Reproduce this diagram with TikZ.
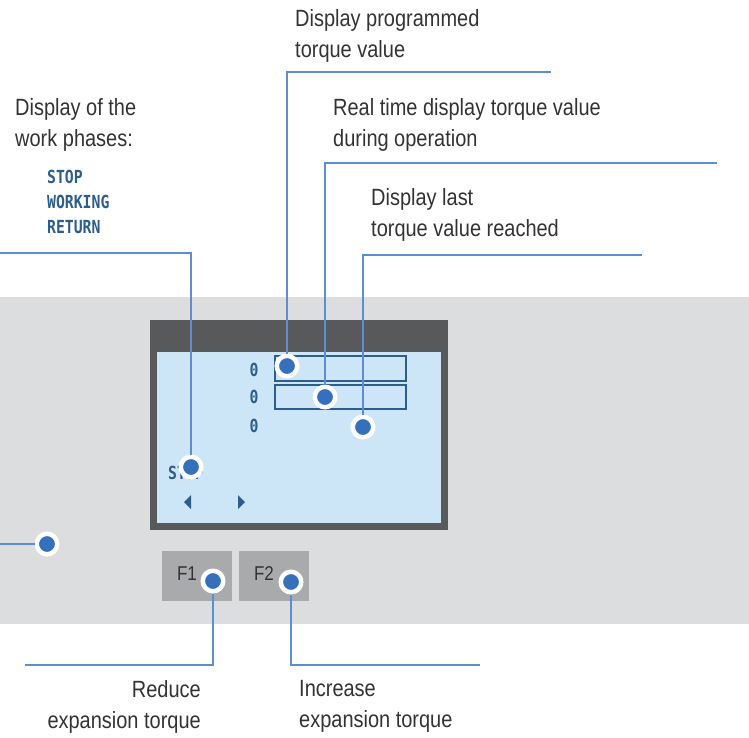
\documentclass[tikz,border=0pt]{standalone}
\usepackage{fontspec}
\setmainfont{Liberation Sans}[FakeStretch=0.85]
\newfontfamily\lcdfont{DejaVu Sans Mono}[FakeStretch=0.82]
\usepackage{tikz}

\definecolor{panelgray}{HTML}{DCDDDE}
\definecolor{framegray}{HTML}{58595B}
\definecolor{screenblue}{HTML}{CCE6F8}
\definecolor{lcdblue}{HTML}{2B5E8C}
\definecolor{leadblue}{HTML}{5B8ED6}
\definecolor{dotblue}{HTML}{3571BA}
\definecolor{keygray}{HTML}{A9AAAC}

\begin{document}
\begin{tikzpicture}[x=1pt,y=-1pt,
        dot/.style={circle,fill=dotblue,draw=white,line width=4.5pt,inner sep=0pt,minimum size=20.5pt},
        lead/.style={draw=leadblue,line width=1.5pt},
        label/.style={inner sep=0pt,text=black!80,font=\fontsize{23.5}{31}\selectfont},
        lcd/.style={inner sep=0pt,text=lcdblue,font=\lcdfont\bfseries\fontsize{18}{25}\selectfont},
        key/.style={fill=keygray,minimum width=70pt,minimum height=50pt,inner sep=0pt}]
        \useasboundingbox (0,0) rectangle (749,738);

        % panel and display
        \fill[panelgray] (0,297) rectangle (749,624);
        \fill[framegray] (150,320) rectangle (448,530);
        \fill[screenblue] (157,352) rectangle (441,523);
        \draw[lcdblue,line width=1.5pt] (275,356) rectangle (406,381);
        \draw[lcdblue,line width=1.5pt] (275,385) rectangle (406,409);

        \node[lcd] (Z1) at (254,370) {0};
        \node[lcd] (Z2) at (254,397) {0};
        \node[lcd] (Z3) at (254,426) {0};
        \node[lcd,anchor=base west] (S) at (168,479) {STOP};
        \fill[lcdblue] (184,502) -- (191,495) -- (191,509) -- cycle;
        \fill[lcdblue] (245,502) -- (238,495) -- (238,509) -- cycle;

        % keys
        \node[key] (F1) at (197,576) {};
        \node[key] (F2) at (274,576) {};
        \node[text=black!80,font=\fontsize{20}{20}\selectfont] (F1t) at (187,574) {F1};
        \node[text=black!80,font=\fontsize{20}{20}\selectfont] (F2t) at (264,574) {F2};

        % labels
        \node[label,anchor=north west,align=left] (Prog) at (295,9) {Display programmed\\torque value};
        \node[label,anchor=north west,align=left] (Real) at (333,98) {Real time display torque value\\during operation};
        \node[label,anchor=north west,align=left] (Last) at (371,188) {Display last\\torque value reached};
        \node[label,anchor=north west,align=left] (Phase) at (15,98) {Display of the\\work phases:};
        \node[lcd,anchor=north west,align=left] (List) at (47,170) {STOP\\WORKING\\RETURN};
        \node[label,anchor=north east,align=right] (Reduce) at (201,680) {Reduce\\expansion torque};
        \node[label,anchor=north west,align=left] (Increase) at (299,680) {Increase\\expansion torque};

        % pointers
        \node[dot] (P1) at (287,366) {};
        \node[dot] (P2) at (325,397) {};
        \node[dot] (P3) at (363,427) {};
        \node[dot] (P4) at (191,467) {};
        \node[dot] (P5) at (47,544) {};
        \node[dot] (P6) at (213,581) {};
        \node[dot] (P7) at (291,582) {};

        \coordinate (E1) at (551,72);
        \coordinate (E2) at (717,163);
        \coordinate (E3) at (642,255);
        \coordinate (E4) at (0,253);
        \coordinate (E5) at (0,544);
        \coordinate (E6) at (25,665);
        \coordinate (E7) at (480,665);

        \draw[lead] (P1) |- (E1);
        \draw[lead] (P2) |- (E2);
        \draw[lead] (P3) |- (E3);
        \draw[lead] (P4) |- (E4);
        \draw[lead] (P5) -- (E5);
        \draw[lead] (P6) |- (E6);
        \draw[lead] (P7) |- (E7);
\end{tikzpicture}
\end{document}
